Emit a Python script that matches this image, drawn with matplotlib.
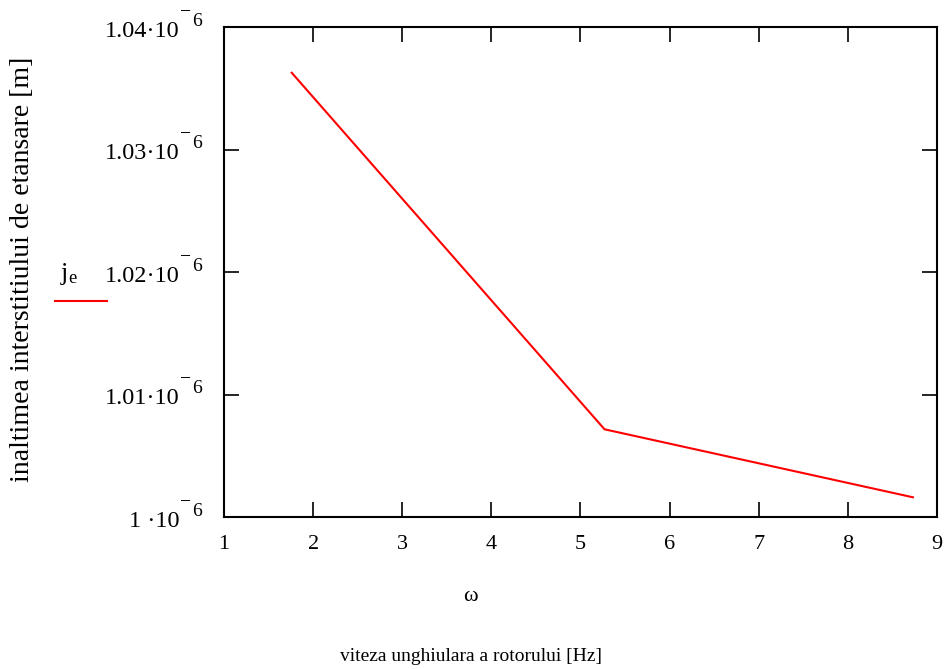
import matplotlib.pyplot as plt
from matplotlib.ticker import FixedLocator, NullFormatter

plt.rcParams['font.family'] = ['Liberation Serif', 'DejaVu Serif']
plt.rcParams['mathtext.fontset'] = 'custom'
plt.rcParams['mathtext.rm'] = 'Liberation Serif'
plt.rcParams['mathtext.it'] = 'Liberation Serif'

# data
omega = [1.76, 5.27, 8.73]
j_e = [1.03627e-6, 1.00716e-6, 1.00161e-6]

x_ticks = [1, 2, 3, 4, 5, 6, 7, 8, 9]
y_ticks = [1.00e-6, 1.01e-6, 1.02e-6, 1.03e-6, 1.04e-6]
y_labels = ['1 ·10', '1.01·10', '1.02·10', '1.03·10', '1.04·10']
y_exp = '6'

fig = plt.figure(figsize=(9.45, 6.69), dpi=100)
ax = fig.add_axes([0.237, 0.2272, 0.7545, 0.7324])

ax.plot(omega, j_e, color='red', lw=1.5)
ax.set_xlim(1, 9)
ax.set_ylim(1.0e-6, 1.04e-6)

ax.xaxis.set_major_locator(FixedLocator(x_ticks))
ax.yaxis.set_major_locator(FixedLocator(y_ticks))
ax.yaxis.set_major_formatter(NullFormatter())
ax.tick_params(direction='in', length=11, width=1.2, top=True, right=True,
               labelsize=16)
ax.tick_params(axis='x', pad=13)
for s in ax.spines.values():
    s.set_linewidth(1.5)

# Mathcad-style y tick labels: mantissa, raised minus and exponent
tr = ax.get_yaxis_transform()
for yv, lab in zip(y_ticks, y_labels):
    ax.annotate(lab, xy=(0, yv), xycoords=tr, xytext=(-44, -4),
                textcoords='offset pixels', ha='right', va='center',
                fontsize=17.5)
    ax.annotate('−', xy=(0, yv), xycoords=tr, xytext=(-44, 15),
                textcoords='offset pixels', ha='left', va='center',
                fontsize=14)
    ax.annotate(y_exp, xy=(0, yv), xycoords=tr, xytext=(-32, 6),
                textcoords='offset pixels', ha='left', va='center',
                fontsize=14)

fig.text(0.024, 0.598, 'inaltimea interstitiului de etansare [m]', rotation=90,
         ha='center', va='center', fontsize=20)
fig.text(0.498, 0.109, 'ω', ha='center', va='center', fontsize=16)
fig.text(0.498, 0.018, 'viteza unghiulara a rotorului [Hz]', ha='center',
         va='center', fontsize=14)

# legend-like label on the left
fig.text(0.073, 0.590, r'$\mathregular{j_e}$', ha='center', va='center', fontsize=19)
fig.add_artist(plt.Line2D([0.058, 0.113], [0.550, 0.550], color='red', lw=1.5,
                          transform=fig.transFigure))

fig.savefig('out.png', dpi=100)
